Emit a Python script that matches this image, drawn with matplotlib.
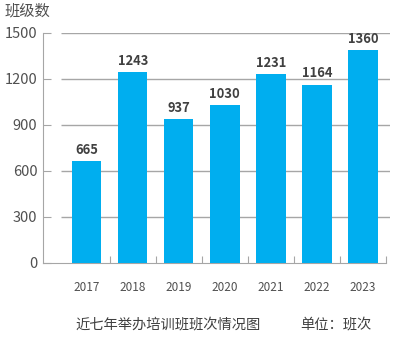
import matplotlib
matplotlib.use('Agg')
import matplotlib.pyplot as plt

plt.rcParams['font.family'] = ['Noto Sans CJK SC', 'DejaVu Sans']

years = ['2017', '2018', '2019', '2020', '2021', '2022', '2023']
bar_heights = [665, 1243, 937, 1030, 1231, 1164, 1390]   # as drawn in the picture
bar_labels = ['665', '1243', '937', '1030', '1231', '1164', '1360']
y_ticks = [0, 300, 600, 900, 1200, 1500]

bar_color = '#00AEEF'
grid_color = '#A6A6A6'
text_color = '#505050'

fig = plt.figure(figsize=(3.97, 3.48), dpi=100)
ax = fig.add_axes([43 / 397, 85 / 348, 347 / 397, 230 / 348])

x = list(range(len(years)))
bars = ax.bar(x, bar_heights, width=0.64, color=bar_color, zorder=3)

for rect, lab in zip(bars, bar_labels):
    ax.annotate(lab, (rect.get_x() + rect.get_width() / 2, rect.get_height()),
                xytext=(0, 3), textcoords='offset points', ha='center', va='bottom',
                fontsize=9.3, fontweight='bold', color='#404040', annotation_clip=False)

# horizontal gridlines start a bit right of the y axis, like the original
ax.hlines(y_ticks[1:], -0.56, 6.59, color=grid_color, lw=1, zorder=1)

ax.set_xlim(-0.95, 6.59)
ax.set_ylim(0, 1500)

for s in ['top', 'right']:
    ax.spines[s].set_visible(False)
ax.spines['left'].set_color(grid_color)
ax.spines['bottom'].set_color(grid_color)
ax.spines['bottom'].set_bounds(-0.95, 6.5)

ax.set_yticks(y_ticks)
ax.tick_params(axis='y', direction='in', length=6, color=grid_color, pad=4,
               labelsize=10.5, labelcolor=text_color)

# ticks between categories, labels at centres
ax.set_xticks([i + 0.5 for i in x])
ax.set_xticklabels([])
ax.tick_params(axis='x', which='major', direction='in', length=5, color=grid_color)
ax.set_xticks(x, minor=True)
ax.set_xticklabels(years, minor=True)
ax.tick_params(axis='x', which='minor', length=0, pad=13, labelsize=8.5, labelcolor=text_color)

fig.text(5 / 397, 1 - 11 / 348, '班级数', fontsize=11, color=text_color, va='center', ha='left')
fig.text(168 / 397, 1 - 324 / 348, '近七年举办培训班班次情况图', fontsize=10.3, color='#404040',
         va='center', ha='center')
fig.text(336 / 397, 1 - 324 / 348, '单位：班次', fontsize=10.3, color='#404040',
         va='center', ha='center')

fig.savefig('out.png', dpi=100)
